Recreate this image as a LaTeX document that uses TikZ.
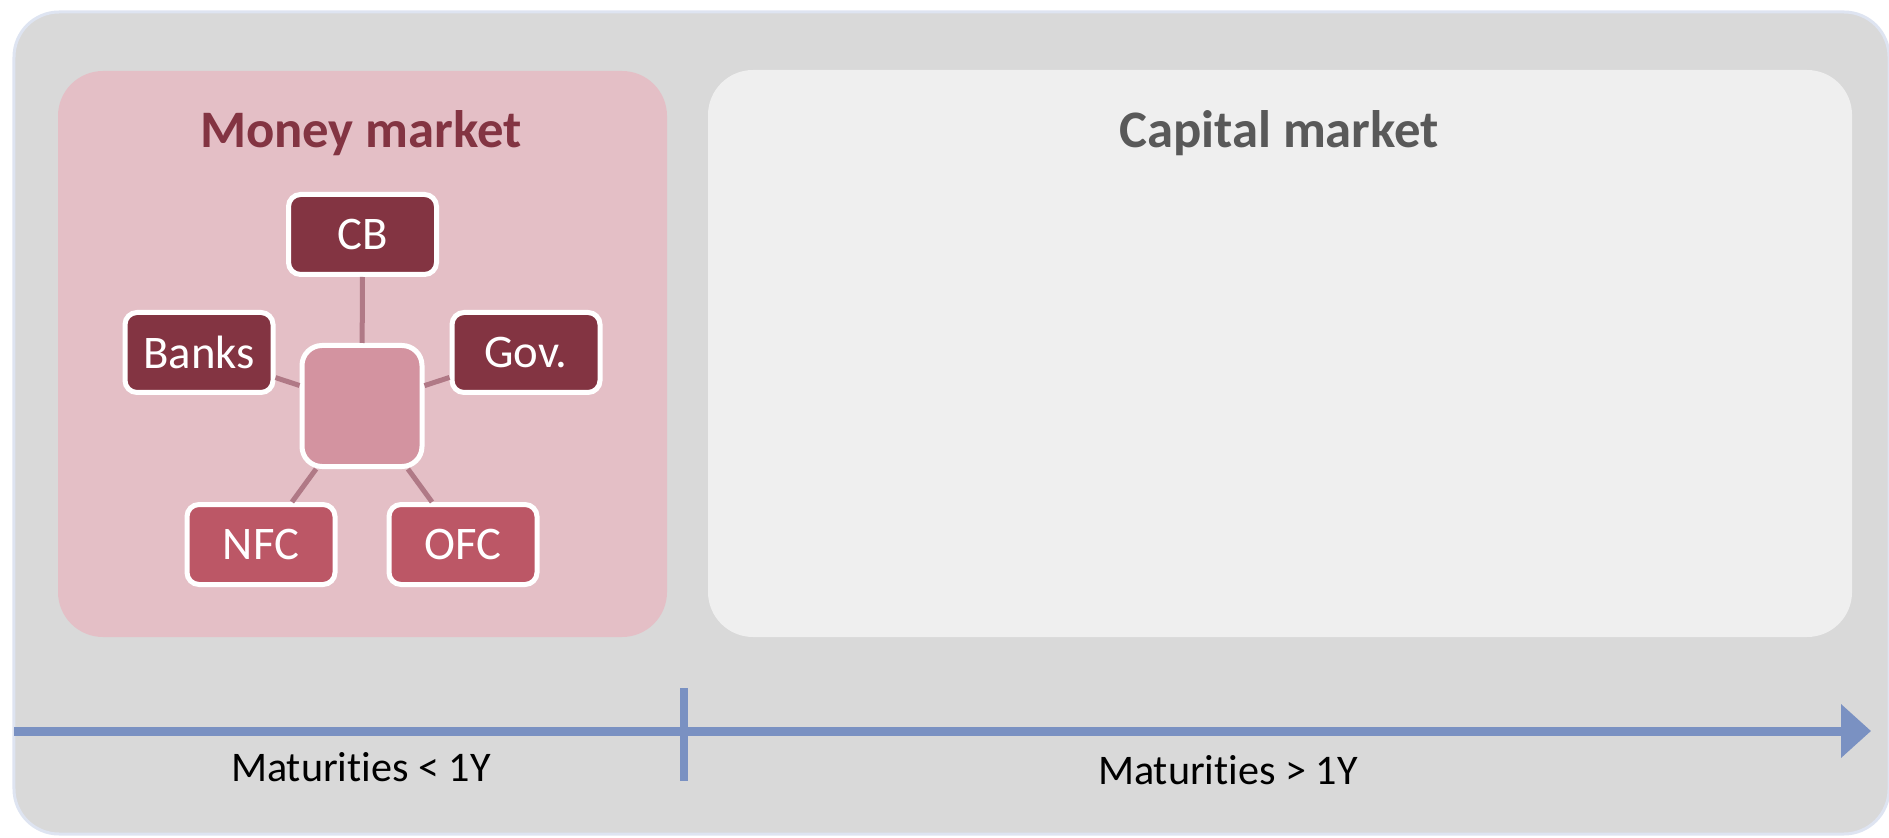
\documentclass[tikz,border=0pt]{standalone}
\usepackage{fontspec}
\setmainfont[Ligatures={NoCommon,NoContextual}]{Carlito}
\usetikzlibrary{arrows.meta,positioning}
\definecolor{frame}{RGB}{217,217,217}
\definecolor{rim}{RGB}{222,228,241}
\definecolor{moneybg}{RGB}{228,191,198}
\definecolor{capitalbg}{RGB}{239,239,239}
\definecolor{maroon}{RGB}{131,52,66}
\definecolor{rose}{RGB}{188,87,102}
\definecolor{hubfill}{RGB}{211,147,160}
\definecolor{link}{RGB}{176,121,134}
\definecolor{axisblue}{RGB}{122,145,194}
\definecolor{greytext}{RGB}{89,89,89}
\tikzset{
  market/.style={rounded corners=0.45cm, inner sep=0pt},
  heading/.style={font=\fontsize{15}{18}\selectfont\bfseries, anchor=base},
  actor/.style={draw=white, line width=0.05cm, rounded corners=0.12cm, text=white,
                minimum width=1.48cm, minimum height=0.80cm, inner sep=0pt,
                font=\fontsize{13.3}{16}\selectfont},
  hub/.style={draw=white, line width=0.05cm, rounded corners=0.2cm, fill=hubfill,
              minimum width=1.20cm, minimum height=1.21cm},
  spoke/.style={link, line width=0.05cm},
  timeline/.style={-{Triangle[length=0.30cm, width=0.52cm]}, axisblue, line width=0.09cm},
  maturity/.style={font=\fontsize{12}{14}\selectfont, anchor=base},
}

\begin{document}
\begin{tikzpicture}
    \useasboundingbox (0,0) rectangle (18.89,8.37);
    % background and the two markets
    \node[market, draw=rim, fill=frame, line width=0.03cm, minimum width=18.75cm, minimum height=8.22cm] (outer) at (9.515,4.14) {};
    \node[market, fill=moneybg, minimum width=6.09cm, minimum height=5.66cm] (money) at (3.625,4.83) {};
    \node[market, fill=capitalbg, minimum width=11.44cm, minimum height=5.67cm] (capital) at (12.80,4.835) {};
    \node[heading, text=maroon] (moneytitle) at (3.61,6.89) {Money market};
    \node[heading, text=greytext] (capitaltitle) at (12.79,6.89) {Capital market};

    % participants round the hub
    \node[hub] (centre) at (3.62,4.31) {};
    \node[actor, fill=maroon] (cb) at (3.625,6.025) {CB};
    \node[actor, fill=maroon] (banks) at (1.99,4.845) {Banks};
    \node[actor, fill=maroon] (gov) at (5.26,4.845) {Gov.};
    \node[actor, fill=rose] (nfc) at (2.61,2.925) {NFC};
    \node[actor, fill=rose] (ofc) at (4.63,2.925) {OFC};
    \foreach \n in {cb,banks,gov,nfc,ofc}
        \draw[spoke] (centre) -- (\n);

    % maturity axis
    \coordinate (axisstart) at (0.14,1.06);
    \coordinate (axisend) at (18.71,1.06);
    \coordinate (ticktop) at (6.84,1.49);
    \coordinate (tickbottom) at (6.84,0.56);
    \draw[timeline] (axisstart) -- (axisend);
    \draw[axisblue, line width=0.08cm] (ticktop) -- (tickbottom);
    \node[maturity] (short) at (3.61,0.56) {Maturities < 1Y};
    \node[maturity] (long) at (12.28,0.53) {Maturities > 1Y};
\end{tikzpicture}
\end{document}
